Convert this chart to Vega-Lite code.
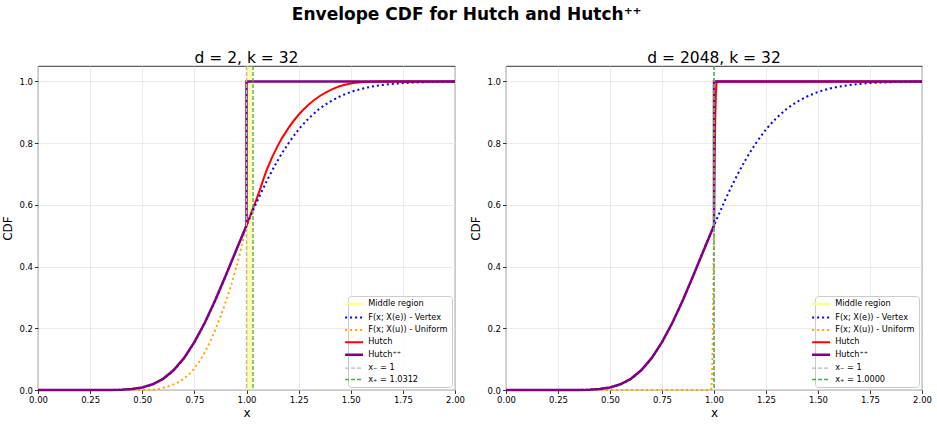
{
  "$schema": "https://vega.github.io/schema/vega-lite/v6.json",
  "padding": {"left": 1, "top": 6, "right": 5, "bottom": 5},
  "title": {"text": "Envelope CDF for Hutch and Hutch⁺⁺", "fontSize": 17, "fontWeight": "bold", "anchor": "middle", "offset": 26, "color": "#000"},
  "config": {
    "font": "DejaVu Sans",
    "view": {"stroke": "#000", "strokeWidth": 0.8},
    "axis": {"domain": false, "grid": true, "gridColor": "#e6e6e6", "gridWidth": 0.8, "tickColor": "#000", "tickSize": 3.5, "tickWidth": 0.8, "labelFontSize": 8.5, "labelColor": "#000", "labelFlush": false, "titleFontSize": 12, "titleFontWeight": "normal", "titleColor": "#000", "labelPadding": 2, "titlePadding": 4},
    "title": {"fontSize": 15.5, "fontWeight": "normal", "offset": -1, "color": "#000"},
    "legend": {"fillColor": "rgba(255,255,255,0.85)", "strokeColor": "#cccccc", "cornerRadius": 3, "padding": 4, "rowPadding": 2.4, "labelFontSize": 8.2, "labelColor": "#000", "labelOffset": 10, "offset": 3, "orient": "bottom-right"}
  },
  "datasets": {
    "vertex": [
      {"s":"vtx","x":0,"y":0},{"s":"vtx","x":0.1,"y":0},{"s":"vtx","x":0.2,"y":0},{"s":"vtx","x":0.3,"y":0.00005},{"s":"vtx","x":0.35,"y":0.0003},{"s":"vtx","x":0.4,"y":0.001},{"s":"vtx","x":0.45,"y":0.0033},{"s":"vtx","x":0.5,"y":0.0084},{"s":"vtx","x":0.55,"y":0.0185},{"s":"vtx","x":0.6,"y":0.0362},{"s":"vtx","x":0.65,"y":0.0639},{"s":"vtx","x":0.7,"y":0.1033},{"s":"vtx","x":0.75,"y":0.155},{"s":"vtx","x":0.8,"y":0.218},{"s":"vtx","x":0.85,"y":0.291},{"s":"vtx","x":0.9,"y":0.37},{"s":"vtx","x":0.95,"y":0.452},{"s":"vtx","x":1,"y":0.533},{"s":"vtx","x":1.05,"y":0.61},{"s":"vtx","x":1.1,"y":0.681},{"s":"vtx","x":1.15,"y":0.744},{"s":"vtx","x":1.2,"y":0.798},{"s":"vtx","x":1.25,"y":0.844},{"s":"vtx","x":1.3,"y":0.881},{"s":"vtx","x":1.35,"y":0.911},{"s":"vtx","x":1.4,"y":0.934},{"s":"vtx","x":1.45,"y":0.952},{"s":"vtx","x":1.5,"y":0.9656},{"s":"vtx","x":1.55,"y":0.9756},{"s":"vtx","x":1.6,"y":0.983},{"s":"vtx","x":1.65,"y":0.9882},{"s":"vtx","x":1.7,"y":0.9919},{"s":"vtx","x":1.75,"y":0.9945},{"s":"vtx","x":1.8,"y":0.9963},{"s":"vtx","x":1.85,"y":0.9976},{"s":"vtx","x":1.9,"y":0.9984},{"s":"vtx","x":1.95,"y":0.9989},{"s":"vtx","x":2,"y":0.9993}
    ],
    "hpp": [
      {"s":"hpp","x":0,"y":0},{"s":"hpp","x":0.1,"y":0},{"s":"hpp","x":0.2,"y":0},{"s":"hpp","x":0.3,"y":0.00005},{"s":"hpp","x":0.35,"y":0.0003},{"s":"hpp","x":0.4,"y":0.001},{"s":"hpp","x":0.45,"y":0.0033},{"s":"hpp","x":0.5,"y":0.0084},{"s":"hpp","x":0.55,"y":0.0185},{"s":"hpp","x":0.6,"y":0.0362},{"s":"hpp","x":0.65,"y":0.0639},{"s":"hpp","x":0.7,"y":0.1033},{"s":"hpp","x":0.75,"y":0.155},{"s":"hpp","x":0.8,"y":0.218},{"s":"hpp","x":0.85,"y":0.291},{"s":"hpp","x":0.9,"y":0.37},{"s":"hpp","x":0.95,"y":0.452},{"s":"hpp","x":1,"y":0.533},{"s":"hpp","x":1,"y":1},{"s":"hpp","x":2,"y":1}
    ],
    "left_uni": [
      {"s":"uni","x":0,"y":0},{"s":"uni","x":0.5,"y":0},{"s":"uni","x":0.55,"y":0.001},{"s":"uni","x":0.6,"y":0.007},{"s":"uni","x":0.65,"y":0.018},{"s":"uni","x":0.7,"y":0.037},{"s":"uni","x":0.75,"y":0.07},{"s":"uni","x":0.8,"y":0.122},{"s":"uni","x":0.85,"y":0.195},{"s":"uni","x":0.9,"y":0.285},{"s":"uni","x":0.95,"y":0.395},{"s":"uni","x":1,"y":0.533}
    ],
    "left_hutch": [
      {"s":"hutch","x":1,"y":0.533},{"s":"hutch","x":1.025,"y":0.578},{"s":"hutch","x":1.05,"y":0.622},{"s":"hutch","x":1.1,"y":0.718},{"s":"hutch","x":1.15,"y":0.792},{"s":"hutch","x":1.2,"y":0.848},{"s":"hutch","x":1.25,"y":0.892},{"s":"hutch","x":1.3,"y":0.926},{"s":"hutch","x":1.35,"y":0.952},{"s":"hutch","x":1.4,"y":0.971},{"s":"hutch","x":1.45,"y":0.985},{"s":"hutch","x":1.5,"y":0.993},{"s":"hutch","x":1.55,"y":0.997},{"s":"hutch","x":1.6,"y":0.999},{"s":"hutch","x":1.7,"y":1},{"s":"hutch","x":2,"y":1}
    ],
    "right_uni": [
      {"s":"uni","x":0,"y":0},{"s":"uni","x":0.985,"y":0},{"s":"uni","x":0.988,"y":0.01},{"s":"uni","x":0.991,"y":0.05},{"s":"uni","x":0.994,"y":0.16},{"s":"uni","x":0.997,"y":0.35},{"s":"uni","x":1,"y":0.533}
    ],
    "right_hutch": [
      {"s":"hutch","x":1,"y":0.533},{"s":"hutch","x":1.003,"y":0.74},{"s":"hutch","x":1.006,"y":0.88},{"s":"hutch","x":1.009,"y":0.96},{"s":"hutch","x":1.012,"y":0.993},{"s":"hutch","x":1.015,"y":1},{"s":"hutch","x":2,"y":1}
    ],
    "left_region": [{"s":"mid","x1":1,"x2":1.0312}],
    "right_region": [{"s":"mid","x1":1,"x2":1.0}],
    "left_vlines": [{"s":"xm","x":1},{"s":"xp","x":1.0312}],
    "right_vlines": [{"s":"xm","x":1},{"s":"xp","x":1.0}]
  },
  "spacing": 51,
  "bounds": "flush",
  "resolve": {"scale": {"color": "independent", "fill": "independent"}, "legend": {"color": "independent"}},
  "hconcat": [
    {
      "width": 417, "height": 324,
      "title": "d = 2, k = 32",
      "layer": [
        {
          "data": {"name": "left_region"},
          "mark": {"type": "rect", "opacity": 0.3},
          "encoding": {
            "x": {"field": "x1", "type": "quantitative", "scale": {"domain": [0, 2], "nice": false, "zero": false, "padding": 0}, "axis": {"title": "x", "titlePadding": 3, "values": [0,0.25,0.5,0.75,1,1.25,1.5,1.75,2], "format": ".2f"}},
            "x2": {"field": "x2"},
            "fill": {"field": "s", "type": "nominal", "scale": {"domain": ["mid"], "range": ["#ffff00"]}, "legend": null}
          }
        },
        {
          "data": {"name": "left_hutch"},
          "mark": {"type": "line", "interpolate": "monotone"},
          "encoding": {
            "x": {"field": "x", "type": "quantitative"},
            "y": {"field": "y", "type": "quantitative", "scale": {"domain": [0, 1.05], "nice": false, "zero": false, "padding": 0}, "axis": {"title": "CDF", "values": [0,0.2,0.4,0.6,0.8,1], "format": ".1f"}},
            "color": {"field": "s", "type": "nominal",
              "scale": {"domain": ["mid","vtx","uni","hutch","hpp","xm","xp"], "range": ["#ffff8c","#0000ff","#ffa500","#ff0000","#800080","#b8b8b8","#4da64d"]},
              "legend": {"title": null, "symbolSize": 324, "symbolOffset": -2, "symbolType": "stroke",
                "symbolStrokeWidth": {"expr": "(datum.value === 'mid' || datum.value === 'hpp') ? 2.5 : (datum.value === 'xm' || datum.value === 'xp') ? 1.3 : 2"},
                "symbolDash": {"expr": "(datum.value === 'vtx' || datum.value === 'uni') ? [2,3] : (datum.value === 'xm' || datum.value === 'xp') ? [4,2] : [1,0]"},
                "labelExpr": "datum.value === 'mid' ? 'Middle region' : datum.value === 'vtx' ? 'F(x; X(e)) - Vertex' : datum.value === 'uni' ? 'F(x; X(u)) - Uniform' : datum.value === 'hutch' ? 'Hutch' : datum.value === 'hpp' ? 'Hutch⁺⁺' : datum.value === 'xm' ? 'x₋ = 1' : 'x₊ = 1.0312'"
              }
            }
          }
        },
        {
          "data": {"name": "vertex"},
          "mark": {"type": "line", "strokeWidth": 2, "strokeDash": [2, 3], "interpolate": "monotone"},
          "encoding": {
            "x": {"field": "x", "type": "quantitative"},
            "y": {"field": "y", "type": "quantitative"},
            "color": {"field": "s", "type": "nominal"}
          }
        },
        {
          "data": {"name": "left_uni"},
          "mark": {"type": "line", "strokeWidth": 2, "strokeDash": [2, 3], "interpolate": "monotone"},
          "encoding": {
            "x": {"field": "x", "type": "quantitative"},
            "y": {"field": "y", "type": "quantitative"},
            "color": {"field": "s", "type": "nominal"}
          }
        },
        {
          "data": {"name": "hpp"},
          "mark": {"type": "line", "strokeWidth": 2.5},
          "encoding": {
            "x": {"field": "x", "type": "quantitative"},
            "y": {"field": "y", "type": "quantitative"},
            "order": {"value": null},
            "color": {"field": "s", "type": "nominal"}
          }
        },
        {
          "data": {"name": "left_vlines"},
          "mark": {"type": "rule", "strokeWidth": 1.3, "strokeDash": [4, 2]},
          "encoding": {
            "x": {"field": "x", "type": "quantitative"},
            "color": {"field": "s", "type": "nominal"}
          }
        }
      ]
    },
    {
      "width": 416, "height": 324,
      "title": "d = 2048, k = 32",
      "layer": [
        {
          "data": {"name": "right_region"},
          "mark": {"type": "rect", "opacity": 0.3},
          "encoding": {
            "x": {"field": "x1", "type": "quantitative", "scale": {"domain": [0, 2], "nice": false, "zero": false, "padding": 0}, "axis": {"title": "x", "titlePadding": 3, "values": [0,0.25,0.5,0.75,1,1.25,1.5,1.75,2], "format": ".2f"}},
            "x2": {"field": "x2"},
            "fill": {"field": "s", "type": "nominal", "scale": {"domain": ["mid"], "range": ["#ffff00"]}, "legend": null}
          }
        },
        {
          "data": {"name": "right_hutch"},
          "mark": {"type": "line"},
          "encoding": {
            "x": {"field": "x", "type": "quantitative"},
            "y": {"field": "y", "type": "quantitative", "scale": {"domain": [0, 1.05], "nice": false, "zero": false, "padding": 0}, "axis": {"title": "CDF", "values": [0,0.2,0.4,0.6,0.8,1], "format": ".1f"}},
            "color": {"field": "s", "type": "nominal",
              "scale": {"domain": ["mid","vtx","uni","hutch","hpp","xm","xp"], "range": ["#ffff8c","#0000ff","#ffa500","#ff0000","#800080","#b8b8b8","#4da64d"]},
              "legend": {"title": null, "symbolSize": 324, "symbolOffset": -2, "symbolType": "stroke",
                "symbolStrokeWidth": {"expr": "(datum.value === 'mid' || datum.value === 'hpp') ? 2.5 : (datum.value === 'xm' || datum.value === 'xp') ? 1.3 : 2"},
                "symbolDash": {"expr": "(datum.value === 'vtx' || datum.value === 'uni') ? [2,3] : (datum.value === 'xm' || datum.value === 'xp') ? [4,2] : [1,0]"},
                "labelExpr": "datum.value === 'mid' ? 'Middle region' : datum.value === 'vtx' ? 'F(x; X(e)) - Vertex' : datum.value === 'uni' ? 'F(x; X(u)) - Uniform' : datum.value === 'hutch' ? 'Hutch' : datum.value === 'hpp' ? 'Hutch⁺⁺' : datum.value === 'xm' ? 'x₋ = 1' : 'x₊ = 1.0000'"
              }
            }
          }
        },
        {
          "data": {"name": "vertex"},
          "mark": {"type": "line", "strokeWidth": 2, "strokeDash": [2, 3], "interpolate": "monotone"},
          "encoding": {
            "x": {"field": "x", "type": "quantitative"},
            "y": {"field": "y", "type": "quantitative"},
            "color": {"field": "s", "type": "nominal"}
          }
        },
        {
          "data": {"name": "right_uni"},
          "mark": {"type": "line", "strokeWidth": 2, "strokeDash": [2, 3]},
          "encoding": {
            "x": {"field": "x", "type": "quantitative"},
            "y": {"field": "y", "type": "quantitative"},
            "color": {"field": "s", "type": "nominal"}
          }
        },
        {
          "data": {"name": "hpp"},
          "mark": {"type": "line", "strokeWidth": 2.5},
          "encoding": {
            "x": {"field": "x", "type": "quantitative"},
            "y": {"field": "y", "type": "quantitative"},
            "order": {"value": null},
            "color": {"field": "s", "type": "nominal"}
          }
        },
        {
          "data": {"name": "right_vlines"},
          "mark": {"type": "rule", "strokeWidth": 1.3, "strokeDash": [4, 2]},
          "encoding": {
            "x": {"field": "x", "type": "quantitative"},
            "color": {"field": "s", "type": "nominal"}
          }
        }
      ]
    }
  ]
}
